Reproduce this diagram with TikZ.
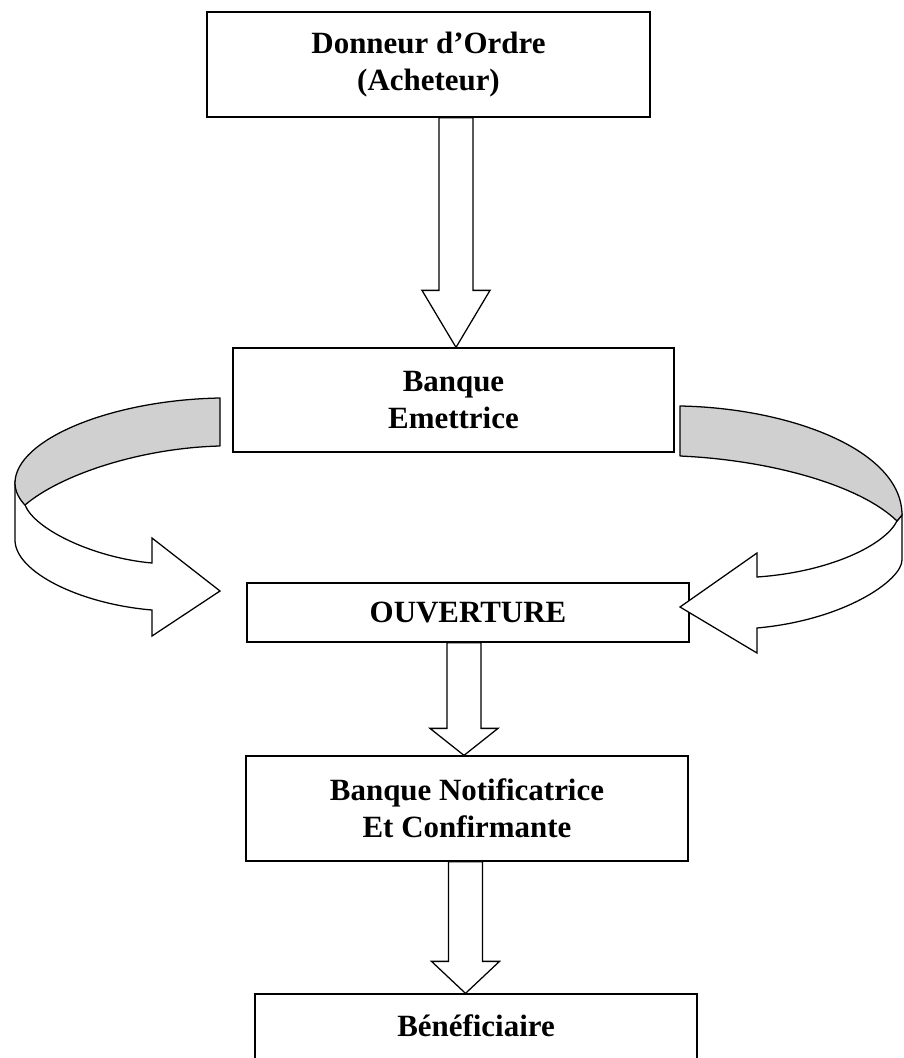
\documentclass[tikz,border=0pt]{standalone}
\usepackage{fontspec}
\setmainfont{Liberation Serif}
\usepackage{tikz}
\usetikzlibrary{calc}
\definecolor{bandgrey}{RGB}{208,208,208}
\newlength{\pxl}\setlength{\pxl}{0.025cm}
% fat hollow arrow pointing down: start, tip, head length
\newcommand{\fatdown}[3]{%
  \draw[fat]($(#1)+(-17,0)$)--($(#2)+(-17,-#3)$)--($(#2)+(-34,-#3)$)--(#2)
    --($(#2)+(34,-#3)$)--($(#2)+(17,-#3)$)--($(#1)+(17,0)$)--cycle;}

\begin{document}
\begin{tikzpicture}[
  x=0.025cm,y=-0.025cm,
  box/.style={draw,rectangle,line width=0.9pt,inner sep=0pt,align=center,
    minimum width=442\pxl,font=\bfseries\fontsize{22}{26}\selectfont},
  fat/.style={draw,fill=white,line width=0.9pt,line join=miter},
  band/.style={draw,fill=bandgrey,line width=0.9pt,line join=round}]
  \clip(0,0)rectangle(903,1058);
  \node[box,minimum width=443\pxl,minimum height=105\pxl](don) at(428.5,64.5){Donneur d’Ordre\\(Acheteur)};
  \node[box,minimum width=441\pxl,minimum height=104\pxl](emet) at(453.5,400){Banque\\Emettrice};
  \node[box,minimum height=59\pxl](ouv) at(468,612.5){OUVERTURE};
  \node[box,minimum height=105\pxl](notif) at(467,808.5){Banque Notificatrice\\Et Confirmante};
  \node[box,minimum height=80\pxl,text depth=12.6pt](benef) at(476,1034){Bénéficiaire};
  \coordinate(c1) at(456,0);\coordinate(c2) at(464,0);\coordinate(c3) at(465.5,0);
  \fatdown{c1 |- don.south}{c1 |- emet.north}{57}
  \fatdown{c2 |- ouv.south}{c2 |- notif.north}{27}
  \fatdown{c3 |- notif.south}{c3 |- benef.north}{32}
  % left ribbon arrow
  \draw[fat](15,483)--(15,540).. controls(15,572)and(80,604)..(152,610)--(152,636)--(220,591)
    --(152,538)--(152,563).. controls(95,558)and(35,530)..(25,505)--cycle;
  \draw[band](220,398).. controls(110,400)and(15,440)..(15,483)
    .. controls(15,492)and(20,500)..(25,505).. controls(60,475)and(140,448)..(220,446)--cycle;
  % right ribbon arrow
  \draw[fat](902,515)--(902,560).. controls(902,580)and(845,620)..(757,628)--(757,653)--(680,607)
    --(757,553)--(757,577).. controls(830,572)and(885,545)..(897,521)--cycle;
  \draw[band](680,406).. controls(790,408)and(902,450)..(902,515)
    --(897,521).. controls(860,485)and(770,460)..(680,456)--cycle;
\end{tikzpicture}
\end{document}
